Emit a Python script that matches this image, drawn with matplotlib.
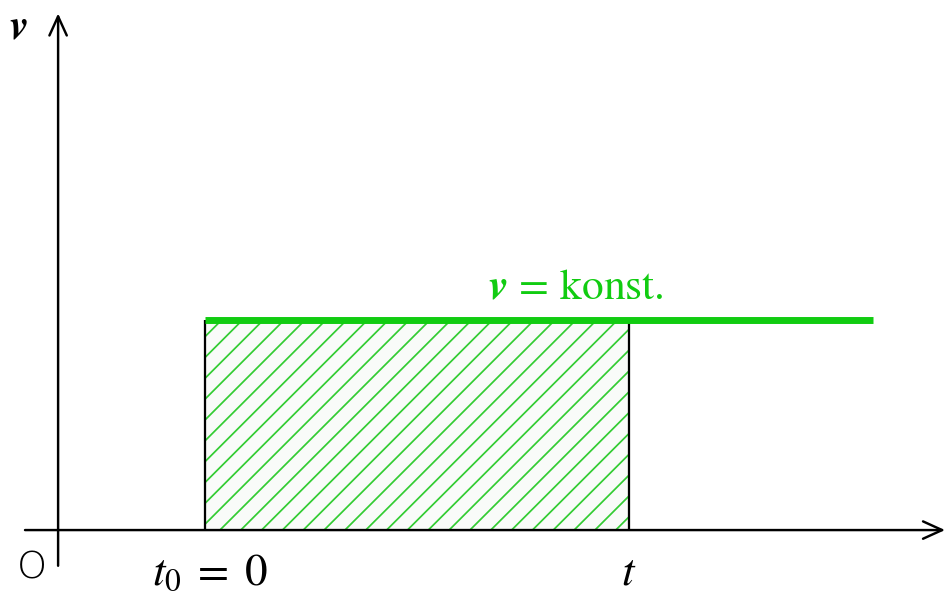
import matplotlib
matplotlib.use("Agg")
import matplotlib.pyplot as plt
from matplotlib.patches import Rectangle

plt.rcParams['mathtext.fontset'] = 'stix'
plt.rcParams['hatch.linewidth'] = 1.0

# data (in axis units: origin at 0)
t_interval = [1.0, 3.88]          # t0 and t
v_const = 1.0
line_span = [1.0, 5.54]           # extent of the constant-velocity line
t_labels = [r'$t_0\;=\;0$', '$t$']
v_label = 'konst.'

DPI = 125
fig = plt.figure(figsize=(948 / DPI, 600 / DPI), dpi=DPI)
ax = fig.add_axes([0, 0, 1, 1])
ax.set_xlim(-0.395, 6.05)
ax.set_ylim(-0.333, 2.524)
ax.axis('off')

green = '#11cc11'

# hatched area
rect = Rectangle((t_interval[0], 0), t_interval[1] - t_interval[0], v_const,
                 facecolor='#f9fbf9', edgecolor='#33cc33', lw=0, hatch='//')
ax.add_patch(rect)
for x in t_interval:
    ax.plot([x, x], [0, v_const], color='black', lw=1.3, solid_capstyle='butt')

# constant velocity line
ax.plot(line_span, [v_const, v_const], color=green, lw=4.0, solid_capstyle='butt')

# axes with arrows
arrow = dict(arrowstyle='->,head_length=0.55,head_width=0.25', lw=1.4, color='black',
             mutation_scale=20, shrinkA=0, shrinkB=0)
ax.annotate('', xy=(6.03, 0), xytext=(-0.225, 0), arrowprops=arrow)
ax.annotate('', xy=(0, 2.46), xytext=(0, -0.17), arrowprops=arrow)

# labels
ax.text(-0.27, 2.40, r'$\boldsymbol{v}$', fontsize=24, ha='center', va='center')
ax.text(-0.18, -0.18, 'O', fontsize=22, ha='center', va='center',
        family='DejaVu Sans', fontweight='light')
ax.text(t_interval[0] + 0.03, -0.2, t_labels[0], fontsize=26, ha='center', va='center')
ax.text(t_interval[1], -0.2, t_labels[1], fontsize=26, ha='center', va='center')
ax.text((t_interval[0] + line_span[1]) / 2 + 0.25, v_const + 0.06,
        r'$\boldsymbol{v}$' + r'$\,=\,$' + r'$\mathrm{' + v_label + '}$',
        fontsize=25, color=green, ha='center', va='bottom')

fig.savefig('out.png', dpi=DPI)
